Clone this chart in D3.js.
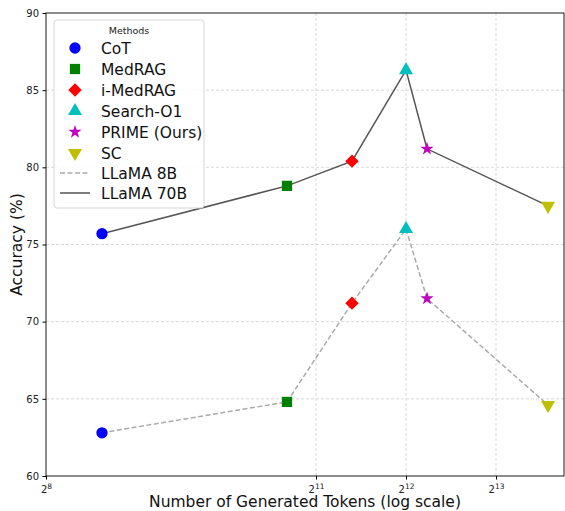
<!DOCTYPE html>
<html>
<head>
<meta charset="utf-8">
<script src="https://cdn.jsdelivr.net/npm/d3@7"></script>
<style>
  body { margin: 0; background: #fff; }
  text { font-family: "DejaVu Sans", sans-serif; }
</style>
</head>
<body>
<svg id="chart" width="565" height="511"></svg>
<script>
// data
var methods = ["CoT", "MedRAG", "i-MedRAG", "Search-O1", "PRIME (Ours)", "SC"];
var tokens = [394, 1638, 2702, 4096, 4815, 12230];
var acc8B = [62.8, 64.8, 71.2, 76.0, 71.5, 64.6];
var acc70B = [75.7, 78.8, 80.4, 86.3, 81.2, 77.5];
var yTicks = [60, 65, 70, 75, 80, 85, 90];
var xTickExp = [8, 11, 12, 13];

var colors = ["#0000ff", "#008000", "#ff0000", "#00bfbf", "#bf00bf", "#bfbf00"];
var shapes = ["circle", "square", "diamond", "triangle", "star", "triangleDown"];

var svg = d3.select("#chart");
var margin = { top: 13, right: 1, bottom: 35, left: 46 },
    width = 565 - margin.left - margin.right,
    height = 511 - margin.top - margin.bottom;

var g = svg.append("g")
    .attr("transform", "translate(" + margin.left + "," + margin.top + ")");

var x = d3.scaleLog().base(2)
    .domain([256, 13830])
    .range([0, width]);
var y = d3.scaleLinear()
    .domain([60, 90])
    .range([height, 0]);

// grid lines
g.selectAll(".hgrid")
    .data(yTicks.slice(1, -1))
    .enter().append("line")
    .attr("x1", 0).attr("x2", width)
    .attr("y1", d => y(d)).attr("y2", d => y(d))
    .attr("stroke", "#cfcfcf")
    .attr("stroke-width", 0.8)
    .attr("stroke-dasharray", "3,2");
g.selectAll(".vgrid")
    .data(xTickExp.slice(1))
    .enter().append("line")
    .attr("x1", d => x(Math.pow(2, d))).attr("x2", d => x(Math.pow(2, d)))
    .attr("y1", 0).attr("y2", height)
    .attr("stroke", "#cfcfcf")
    .attr("stroke-width", 0.8)
    .attr("stroke-dasharray", "3,2");

// axes
var yAxis = g.append("g")
    .call(d3.axisLeft(y).tickValues(yTicks).tickSize(3.5).tickPadding(3.5));
yAxis.selectAll("text").attr("font-size", "10px").attr("fill", "#222");
yAxis.select(".domain").remove();

var xAxis = g.append("g")
    .attr("transform", "translate(0," + height + ")")
    .call(d3.axisBottom(x).tickValues(xTickExp.map(e => Math.pow(2, e)))
        .tickSize(3.5).tickFormat(""));
xAxis.select(".domain").remove();
xAxis.selectAll(".tick").append("text")
    .attr("y", 16.5)
    .attr("text-anchor", "middle")
    .attr("fill", "#222")
    .attr("font-size", "10px")
    .each(function (d) {
        var t = d3.select(this);
        t.append("tspan").text("2");
        t.append("tspan").attr("dy", "-0.45em").attr("font-size", "7.5px")
            .text(Math.round(Math.log2(d)));
    });

// frame
g.append("rect")
    .attr("width", width).attr("height", height)
    .attr("fill", "none")
    .attr("stroke", "#000")
    .attr("stroke-width", 0.9);

// lines
var line = d3.line()
    .x(d => x(d[0]))
    .y(d => y(d[1]));

g.append("path")
    .datum(d3.zip(tokens, acc8B))
    .attr("d", line)
    .attr("fill", "none")
    .attr("stroke", "#aaaaaa")
    .attr("stroke-width", 1.5)
    .attr("stroke-dasharray", "5,2.5");

g.append("path")
    .datum(d3.zip(tokens, acc70B))
    .attr("d", line)
    .attr("fill", "none")
    .attr("stroke", "#555555")
    .attr("stroke-width", 1.5);

function symbolPath(shape) {
    var types = {
        circle: [d3.symbolCircle, 100],
        square: [d3.symbolSquare, 105],
        diamond: [d3.symbolSquare, 90],
        triangle: [d3.symbolTriangle, 85],
        triangleDown: [d3.symbolTriangle, 85],
        star: [d3.symbolStar, 55]
    };
    return d3.symbol().type(types[shape][0]).size(types[shape][1])();
}
function symbolRot(shape) {
    if (shape === "diamond") return 45;
    if (shape === "triangleDown") return 180;
    return 0;
}

// markers
[acc8B, acc70B].forEach(function (series) {
    g.selectAll(null)
        .data(methods)
        .enter().append("path")
        .attr("d", (d, i) => symbolPath(shapes[i]))
        .attr("transform", (d, i) => "translate(" + x(tokens[i]) + "," + y(series[i]) + ") rotate(" + symbolRot(shapes[i]) + ")")
        .attr("fill", (d, i) => colors[i]);
});

// axis titles
svg.append("text")
    .attr("x", margin.left + width / 2)
    .attr("y", 507)
    .attr("text-anchor", "middle")
    .attr("font-size", "15.5px")
    .attr("fill", "#111")
    .text("Number of Generated Tokens (log scale)");

svg.append("text")
    .attr("transform", "translate(22," + (margin.top + height / 2) + ") rotate(-90)")
    .attr("text-anchor", "middle")
    .attr("font-size", "15.5px")
    .attr("fill", "#111")
    .text("Accuracy (%)");

// legend
var legend = svg.append("g").attr("transform", "translate(54,20)");
legend.append("rect")
    .attr("width", 150).attr("height", 188)
    .attr("rx", 3)
    .attr("fill", "#fff").attr("fill-opacity", 0.85)
    .attr("stroke", "#d6d6d6");
legend.append("text")
    .attr("x", 75).attr("y", 14)
    .attr("text-anchor", "middle")
    .attr("font-size", "9.5px")
    .attr("fill", "#222")
    .text("Methods");

var legendItems = methods.concat(["LLaMA 8B", "LLaMA 70B"]);
var legendY = [28, 49, 70, 91, 112, 133, 153, 173];
legendItems.forEach(function (name, i) {
    var row = legend.append("g").attr("transform", "translate(0," + legendY[i] + ")");
    if (i < methods.length) {
        row.append("path")
            .attr("d", symbolPath(shapes[i]))
            .attr("transform", "translate(21,0) rotate(" + symbolRot(shapes[i]) + ")")
            .attr("fill", colors[i]);
    } else {
        row.append("line")
            .attr("x1", 6).attr("x2", 36)
            .attr("stroke", i === 6 ? "#aaaaaa" : "#555555")
            .attr("stroke-width", 1.5)
            .attr("stroke-dasharray", i === 6 ? "5,2.5" : null);
    }
    row.append("text")
        .attr("x", 47).attr("y", 5.5)
        .attr("font-size", "15.5px")
        .attr("fill", "#111")
        .text(name);
});
</script>
</body>
</html>
